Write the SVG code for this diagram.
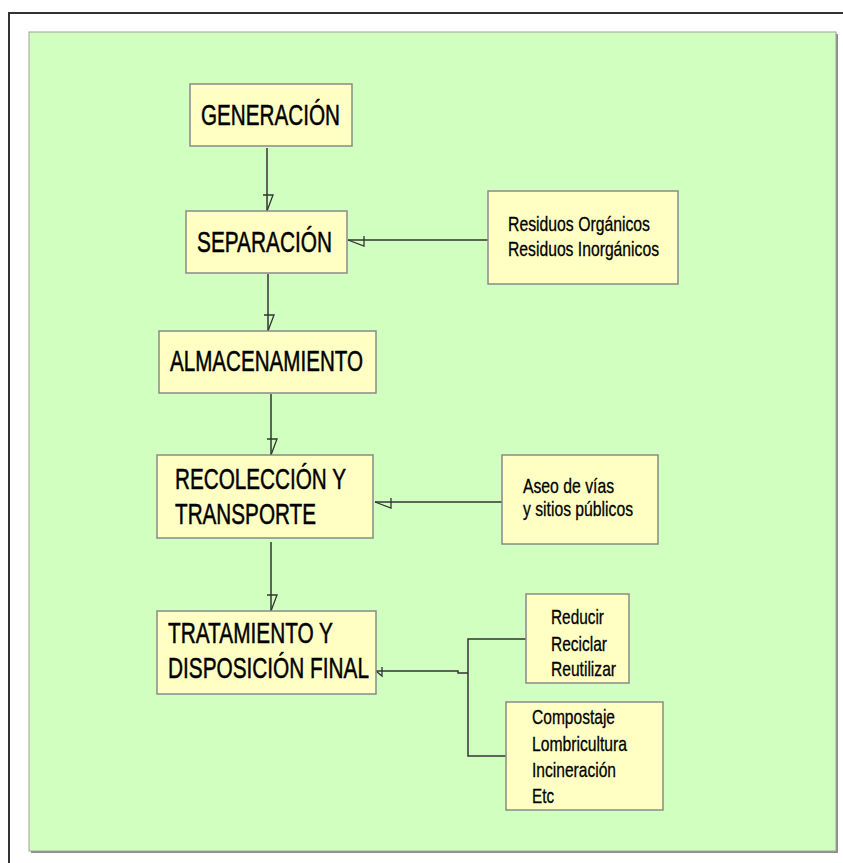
<svg xmlns="http://www.w3.org/2000/svg" width="843" height="863" viewBox="0 0 843 863">
<style>
.box{fill:#ffffc4;stroke:#8a8a8a;stroke-width:1.5}
.big{font-family:"Liberation Sans",Arial,sans-serif;font-size:29px;fill:#000;stroke:#000;stroke-width:0.5}
.small{font-family:"Liberation Sans",Arial,sans-serif;font-size:21px;fill:#000;stroke:#000;stroke-width:0.3}
.conn{fill:none;stroke:#333;stroke-width:1.5}
.head{fill:none;stroke:#333;stroke-width:1.3}
</style>
<defs>
<marker id="arr" markerUnits="userSpaceOnUse" orient="auto" refX="0" refY="0" markerWidth="20" markerHeight="20" overflow="visible">
<path class="head" d="M-16,4 L-16,-6 L0,0"/>
</marker>
<marker id="arrS" markerUnits="userSpaceOnUse" orient="auto" refX="0" refY="0" markerWidth="10" markerHeight="10" overflow="visible">
<path class="head" d="M-6,4 L-6,-5 L0,0"/>
</marker>
</defs>
<rect x="0" y="0" width="843" height="863" fill="#fff"/>
<path d="M9,863 L9,13 L843,13" fill="none" stroke="#333" stroke-width="2"/>
<g id="background">
<rect x="31" y="34" width="807" height="819" fill="#8c8c8c"/>
<rect x="29" y="32" width="807" height="819" fill="#d1ffc0" stroke="#a0a0a0" stroke-width="1"/>
</g>
<g id="connectors">
<path class="conn" d="M267,148 L267,211" marker-end="url(#arr)"/>
<path class="conn" d="M268,274 L268,331" marker-end="url(#arr)"/>
<path class="conn" d="M271,394 L271,455" marker-end="url(#arr)"/>
<path class="conn" d="M271,542 L271,611" marker-end="url(#arr)"/>
<path class="conn" d="M488,240 L348,240" marker-end="url(#arr)"/>
<path class="conn" d="M502,502 L375,502" marker-end="url(#arr)"/>
<path class="conn" d="M526,639 L468,639 L468,756 L506,756"/>
<path class="conn" d="M468,673 L458,673 L458,671 L376,671" marker-end="url(#arrS)"/>
</g>
<g id="generacion">
<rect class="box" x="190" y="84" width="162" height="62"/>
<text class="big" x="201" y="125" textLength="139" lengthAdjust="spacingAndGlyphs">GENERACIÓN</text>
</g>
<g id="separacion">
<rect class="box" x="186" y="211" width="161" height="62"/>
<text class="big" x="197" y="252" textLength="135" lengthAdjust="spacingAndGlyphs">SEPARACIÓN</text>
</g>
<g id="residuos">
<rect class="box" x="488" y="191" width="190" height="93"/>
<text class="small" x="508" y="231" textLength="142" lengthAdjust="spacingAndGlyphs">Residuos Orgánicos</text>
<text class="small" x="508" y="256" textLength="151" lengthAdjust="spacingAndGlyphs">Residuos Inorgánicos</text>
</g>
<g id="almacenamiento">
<rect class="box" x="159" y="331" width="217" height="62"/>
<text class="big" x="170" y="371" textLength="193" lengthAdjust="spacingAndGlyphs">ALMACENAMIENTO</text>
</g>
<g id="recoleccion">
<rect class="box" x="157" y="455" width="216" height="83"/>
<text class="big" x="175" y="489" textLength="171" lengthAdjust="spacingAndGlyphs">RECOLECCIÓN Y</text>
<text class="big" x="175" y="524" textLength="141" lengthAdjust="spacingAndGlyphs">TRANSPORTE</text>
</g>
<g id="aseo">
<rect class="box" x="502" y="455" width="156" height="89"/>
<text class="small" x="523" y="493" textLength="91" lengthAdjust="spacingAndGlyphs">Aseo de vías</text>
<text class="small" x="523" y="516" textLength="110" lengthAdjust="spacingAndGlyphs">y sitios públicos</text>
</g>
<g id="tratamiento">
<rect class="box" x="157" y="611" width="219" height="83"/>
<text class="big" x="168" y="643" textLength="165" lengthAdjust="spacingAndGlyphs">TRATAMIENTO Y</text>
<text class="big" x="168" y="678" textLength="201" lengthAdjust="spacingAndGlyphs">DISPOSICIÓN FINAL</text>
</g>
<g id="reducir">
<rect class="box" x="526" y="594" width="103" height="89"/>
<text class="small" x="551" y="624" textLength="53" lengthAdjust="spacingAndGlyphs">Reducir</text>
<text class="small" x="551" y="651" textLength="56" lengthAdjust="spacingAndGlyphs">Reciclar</text>
<text class="small" x="551" y="676" textLength="65" lengthAdjust="spacingAndGlyphs">Reutilizar</text>
</g>
<g id="compostaje">
<rect class="box" x="506" y="702" width="157" height="108"/>
<text class="small" x="532" y="724" textLength="83" lengthAdjust="spacingAndGlyphs">Compostaje</text>
<text class="small" x="532" y="751" textLength="95" lengthAdjust="spacingAndGlyphs">Lombricultura</text>
<text class="small" x="532" y="777" textLength="84" lengthAdjust="spacingAndGlyphs">Incineración</text>
<text class="small" x="532" y="803" textLength="22" lengthAdjust="spacingAndGlyphs">Etc</text>
</g>
</svg>
